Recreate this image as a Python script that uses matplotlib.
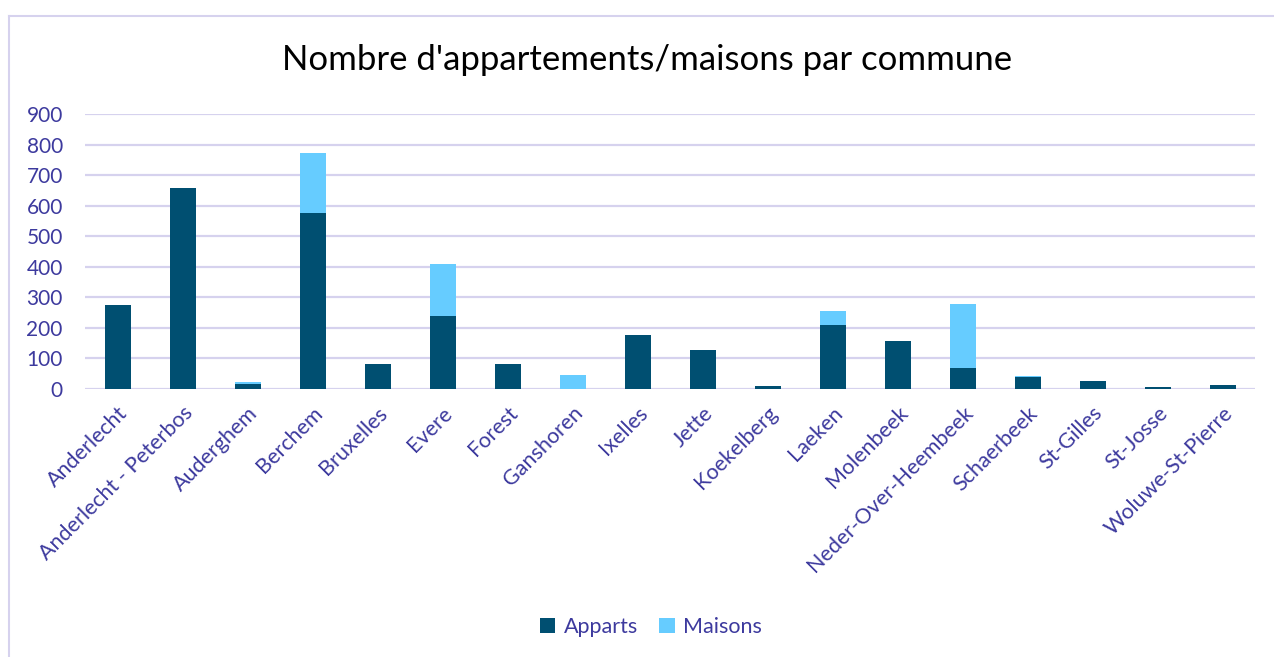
import matplotlib
matplotlib.use("Agg")
import matplotlib.pyplot as plt
from matplotlib.lines import Line2D
import numpy as np

communes = ["Anderlecht", "Anderlecht - Peterbos", "Auderghem", "Berchem", "Bruxelles",
            "Evere", "Forest", "Ganshoren", "Ixelles", "Jette", "Koekelberg", "Laeken",
            "Molenbeek", "Neder-Over-Heembeek", "Schaerbeek", "St-Gilles", "St-Josse",
            "Woluwe-St-Pierre"]
apparts = [275, 657, 16, 576, 83, 240, 82, 0, 178, 128, 9, 211, 157, 70, 39, 25, 5, 13]
maisons = [0, 0, 6, 198, 0, 170, 0, 45, 0, 0, 0, 45, 0, 208, 3, 0, 0, 0]
yticks = [0, 100, 200, 300, 400, 500, 600, 700, 800, 900]

DARK = "#004F71"
LIGHT = "#66CCFF"
TXT = "#3D3A9E"
GRID = "#D6D2EE"

plt.rcParams['font.family'] = ['Lato', 'DejaVu Sans']

W, H = 1274, 657
fig = plt.figure(figsize=(W / 100, H / 100), dpi=100)
ax = fig.add_axes([85 / W, 1 - 389 / H, 1170 / W, 275 / H])

x = np.arange(len(communes))
ax.bar(x, apparts, width=0.4, color=DARK, label="Apparts", zorder=3)
ax.bar(x, maisons, width=0.4, bottom=apparts, color=LIGHT, label="Maisons", zorder=3)

ax.set_xlim(-0.5, len(communes) - 0.5)
ax.set_ylim(0, 900)
ax.set_yticks(yticks)
ax.set_yticklabels([str(v) for v in yticks], fontsize=15, color=TXT)
ax.set_xticks(x)
ax.set_xticklabels(communes, rotation=45, ha="right", rotation_mode="anchor",
                   fontsize=15.5, color=TXT)
ax.tick_params(axis="y", length=0, pad=16)
ax.tick_params(axis="x", length=0, pad=10)
ax.grid(axis="y", color=GRID, linewidth=1.6, zorder=0)
for s in ax.spines.values():
    s.set_visible(False)

fig.text(647 / W, 1 - 60 / H, "Nombre d'appartements/maisons par commune",
         ha="center", va="center", fontsize=25, color="black")

leg = fig.legend(loc="center", bbox_to_anchor=(651 / W, 1 - 627 / H), ncol=2,
                 frameon=False, fontsize=15.5, handlelength=0.7, handleheight=0.7,
                 columnspacing=1.0, handletextpad=0.4)
for t in leg.get_texts():
    t.set_color(TXT)

# outer chart border
fig.add_artist(Line2D([8.5 / W, 8.5 / W], [0, 1 - 15.5 / H], transform=fig.transFigure,
                      color=GRID, linewidth=1.5))
fig.add_artist(Line2D([8.5 / W, 1], [1 - 15.5 / H, 1 - 15.5 / H], transform=fig.transFigure,
                      color=GRID, linewidth=1.5))

fig.savefig("out.png", dpi=100, facecolor="white")
